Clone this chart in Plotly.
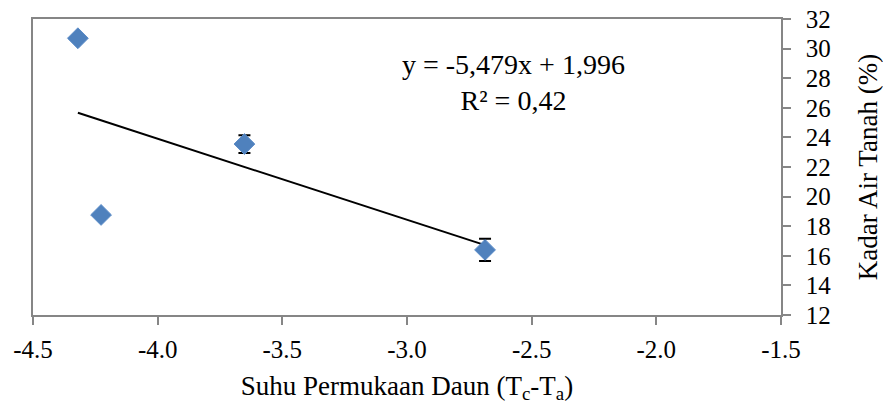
import plotly.graph_objects as go

# Leaf surface temperature difference (Tc - Ta) vs. soil water content (%)
suhu_daun = [-4.32, -4.227, -3.652, -2.687]
kadar_air = [30.7, 18.76, 23.55, 16.4]
galat = [0.0, 0.0, 0.6, 0.75]

# Linear trendline y = -5.479x + 1.996
slope = -5.479
intercept = 1.996
garis_x = [min(suhu_daun), max(suhu_daun)]
garis_y = [slope * v + intercept for v in garis_x]

x_ticks = [-4.5, -4.0, -3.5, -3.0, -2.5, -2.0, -1.5]
y_ticks = list(range(12, 33, 2))

axis_grey = "#868686"
font_family = "Liberation Serif, Times New Roman, serif"

fig = go.Figure()

fig.add_trace(go.Scatter(
    x=garis_x, y=garis_y, mode="lines",
    line=dict(color="black", width=2),
    showlegend=False, hoverinfo="skip",
))

fig.add_trace(go.Scatter(
    x=suhu_daun, y=kadar_air, mode="markers",
    marker=dict(symbol="diamond", size=16, color="#4F81BD",
                line=dict(color="#5B8CC8", width=1)),
    error_y=dict(type="data", array=galat, visible=True,
                 color="black", thickness=2, width=6),
    showlegend=False,
))

fig.add_annotation(
    x=0.643, y=0.905, xref="paper", yref="paper",
    text="y = -5,479x + 1,996<br>R² = 0,42",
    showarrow=False, align="center",
    font=dict(family=font_family, size=28, color="black"),
)

fig.update_layout(
    width=883, height=408,
    margin=dict(l=33, r=102, t=19, b=93),
    paper_bgcolor="white", plot_bgcolor="white",
    font=dict(family=font_family, size=25, color="black"),
    xaxis=dict(
        range=[-4.5, -1.5], tickvals=x_ticks,
        ticktext=[f"{v:.1f}" for v in x_ticks],
        showgrid=False, zeroline=False, automargin=False,
        showline=True, linecolor=axis_grey, linewidth=1.5, mirror=True,
        ticks="outside", ticklen=8, tickcolor=axis_grey, tickwidth=1.5,
        ticklabelstandoff=3,
        title=dict(text="Suhu Permukaan Daun (T<sub>c</sub>-T<sub>a</sub>)",
                   font=dict(size=27), standoff=14),
    ),
    yaxis=dict(
        range=[12, 32], tickvals=y_ticks, side="right",
        showgrid=False, zeroline=False, automargin=False,
        showline=True, linecolor=axis_grey, linewidth=1.5, mirror=True,
        ticks="outside", ticklen=8, tickcolor=axis_grey, tickwidth=1.5,
        ticklabelstandoff=10,
        title=dict(text="Kadar Air Tanah (%)", font=dict(size=27), standoff=36),
    ),
)

fig.write_html("out.html")
